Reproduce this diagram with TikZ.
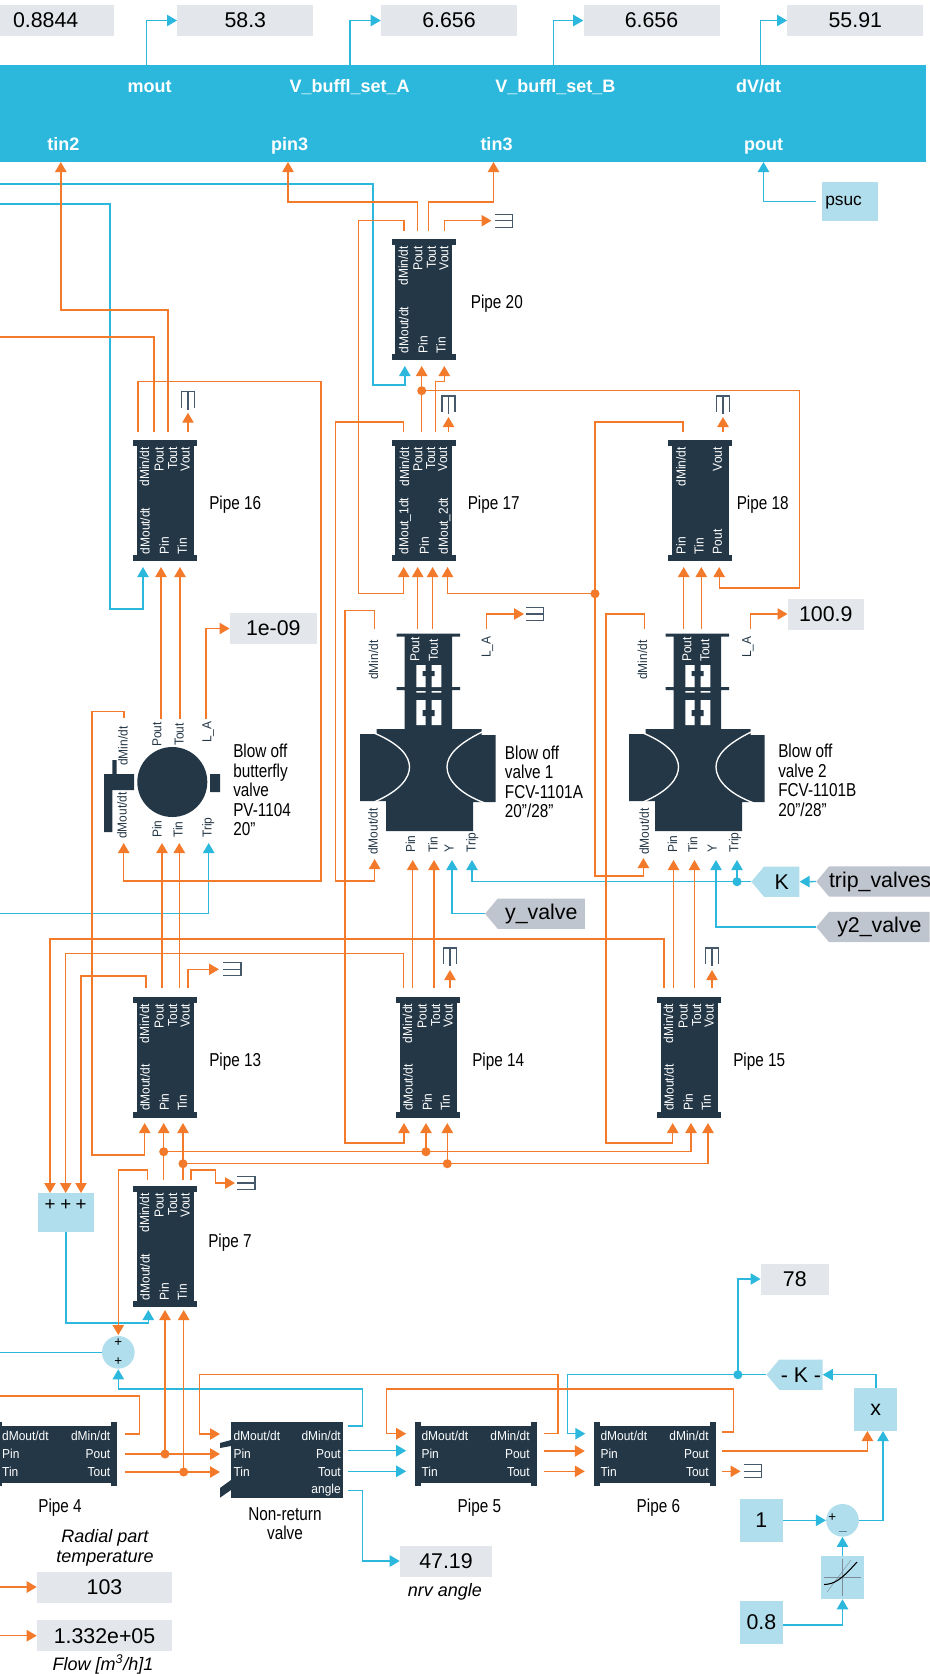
\documentclass[tikz,border=0pt]{standalone}
\usepackage{xcolor}
\usepackage{fontspec}
\setmainfont{Liberation Sans}
\newfontfamily\capfont[FakeStretch=0.82]{Liberation Sans}
\newfontfamily\portfont[FakeStretch=0.92]{Liberation Sans}
\usetikzlibrary{arrows.meta, shapes.symbols}
\definecolor{bandcol}{HTML}{2BB8DC}
\definecolor{palecol}{HTML}{B0DEEC}
\definecolor{embercol}{HTML}{F37A2B}
\definecolor{navycol}{HTML}{243746}
\definecolor{mistcol}{HTML}{E3E6EA}
\definecolor{slatecol}{HTML}{BFC5CE}
\definecolor{combcol}{HTML}{46596A}
\tikzset{
  wireo/.style={draw=embercol, line width=1.05pt},
  wireb/.style={draw=bandcol, line width=1.05pt},
  tipo/.style={wireo, -{Triangle[length=7.5pt,width=8.5pt]}},
  tipb/.style={wireb, -{Triangle[length=7.5pt,width=8.5pt]}},
  joint/.style={circle, fill=#1, inner sep=0pt, minimum size=6.8pt},
  valuebox/.style={rectangle, fill=mistcol, inner sep=0pt, font=\fontsize{16}{18}\selectfont},
  palebox/.style={rectangle, fill=palecol, inner sep=0pt, font=\fontsize{16}{18}\selectfont},
  sumnode/.style={circle, fill=palecol, inner sep=0pt, minimum size=24.5pt},
  tagnode/.style={shape=signal, signal to=west, signal pointer angle=100, fill=#1, inner sep=0pt,
    minimum height=22.7pt, font=\fontsize{16}{18}\selectfont},
  pipebody/.style={rectangle, fill=navycol, inner sep=0pt},
  portup/.style={rotate=90, inner sep=0pt, text height=7.2pt, text depth=1.8pt, font=\portfont\fontsize{9.75}{11}\selectfont},
  portflat/.style={inner sep=0pt, text height=7.2pt, text depth=1.8pt, font=\portfont\fontsize{9.75}{11}\selectfont},
  capnode/.style={inner sep=0pt, align=left, font=\capfont\fontsize{14}{14.6}\selectfont},
  notenode/.style={inner sep=0pt, align=center, font=\itshape\fontsize{13.5}{15}\selectfont},
  bandlabel/.style={inner sep=0pt, text=white, text height=9.5pt, text depth=2.8pt, font=\bfseries\fontsize{13.5}{15}\selectfont},
  combline/.style={draw=combcol, line width=0.8pt}
}
\begin{document}
\begin{tikzpicture}[x=0.75pt, y=-0.75pt]
  \useasboundingbox (0,0) rectangle (929,1674);
  \node[rectangle, fill=bandcol, inner sep=0pt, minimum width=694.5pt, minimum height=72.75pt] (band) at (463,113.5) {};
  \foreach \nm/\x/\y/\lbl in {
    lmout/149.6/88/mout, lbuffa/349.6/88/V\_buffl\_set\_A, lbuffb/555.3/88/V\_buffl\_set\_B, ldvdt/758.7/88/dV{/}dt,
    ltin2/63.4/146/tin2, lpin3/289.6/146/pin3, ltin3/496.5/146/tin3, lpout/763.7/146/pout} {
    \node[bandlabel] (\nm) at (\x,\y) {\lbl};
  }
  \foreach \nm/\x/\y/\w/\h/\lbl in {
    vgain/45.7/20.5/136/31/0.8844, vmout/245.3/20.5/136/31/58.3, vbuffa/449/20.5/136/31/6.656,
    vbuffb/651.5/20.5/136/31/6.656, vdvdt/855.3/20.5/136/31/55.91, vlift/273.3/628.5/87/31/1e-09,
    vlift2/825.8/614/76/31/100.9, vspeed/794.8/1279/68/31/78, vnrv/446/1561/92/31/47.19,
    vtemp/104.5/1587/135/31/103, vflow/104.5/1635.7/135/31/1.332e+05} {
    \node[valuebox, minimum width=\w*0.75pt, minimum height=\h*0.75pt] (\nm) at (\x,\y) {\lbl};
  }
  \foreach \nm/\x/\y/\w/\h/\lbl in {
    cplus/66/1212.5/56/39/{}, cone/761.4/1520.3/43.3/43/1, czero/761.4/1622.3/43.3/43/0.8,
    cmult/875.8/1409.5/43/43/x, clook/842.5/1577.5/43/43/{}, cpsuc/850/201.4/56/38.7/{}} {
    \node[palebox, minimum width=\w*0.75pt, minimum height=\h*0.75pt] (\nm) at (\x,\y) {\lbl};
  }
  \node[inner sep=0pt, anchor=west, font=\fontsize{13}{16}\selectfont] (lpsuc) at (825,203) {psuc};
  \foreach \x in {50,65.7,81} {
    \node[inner sep=0pt, font=\fontsize{14}{14}\selectfont] at (\x,1205) {+};
  }
  \node[sumnode] (sumc) at (118.3,1352.3) {};
  \node[sumnode] (sumb) at (842.5,1520.3) {};
  \node[inner sep=0pt, font=\fontsize{10}{10}\selectfont] at (118.3,1343) {+};
  \node[inner sep=0pt, font=\fontsize{10}{10}\selectfont] at (118.3,1361.7) {+};
  \node[inner sep=0pt, font=\fontsize{10}{10}\selectfont] at (832.3,1518) {+};
  \node[inner sep=0pt, text=navycol, font=\bfseries\fontsize{10.5}{10.5}\selectfont] at (843,1531) {\_};
  \node[tagnode=palecol, minimum width=36pt, anchor=west] (ktag) at (751,881.7) {K};
  \node[tagnode=palecol, minimum width=42pt, anchor=west] (kmtag) at (766.2,1374.7) {- K -};
  \node[tagnode=slatecol, minimum width=85pt, anchor=west] (triptag) at (816,881.5) {trip\_valves\hspace{4pt}};
  \node[tagnode=slatecol, minimum width=85pt, anchor=west] (y2tag) at (816,927) {y2\_valve};
  \node[tagnode=slatecol, minimum width=74.8pt, anchor=west] (ytag) at (484.7,913.7) {y\_valve};
  \draw[combcol!70, line width=0.4pt] (824,1577.3) -- (861,1577.3) (842.3,1559) -- (842.3,1596);
  \draw[combcol!70, line width=0.3pt] (827,1592) -- (851,1560);
  \draw[black, line width=0.8pt] (824,1584.5) .. controls (834,1584) and (840,1581) .. (857,1562);
  \foreach \nm/\x/\y in {
    p20/391.8/239, p16/133/440, p17/391.8/440, p18/668.4/440, p13/133/996.7, p14/396/996.7, p15/657/996.7, p7/133/1186} {
    \node[pipebody, minimum width=42.75pt, minimum height=90.75pt] (\nm) at (\x+32,\y+60.5) {};
    \node[pipebody, minimum width=48pt, minimum height=4.5pt] (\nm-top) at (\x+32,\y+3) {};
    \node[pipebody, minimum width=48pt, minimum height=4.5pt] (\nm-end) at (\x+32,\y+118) {};
  }
  \foreach \nm/\x/\y in {p20/391.8/239, p16/133/440, p13/133/996.7, p14/396/996.7, p15/657/996.7, p7/133/1186} {
    \foreach \lbl/\dx in {{dMin/dt}/12.5, Pout/27, Tout/40.5, Vout/53} {
      \node[portup, text=white, anchor=east] at (\x+\dx,\y+7) {\lbl};
    }
    \foreach \lbl/\dx in {{dMout/dt}/13, Pin/32.3, Tin/50.3} {
      \node[portup, text=white, anchor=west] at (\x+\dx,\y+114.5) {\lbl};
    }
  }
  \foreach \lbl/\x in {{dMin/dt}/405.4, Pout/418.7, Tout/431.5, Vout/443.6, {dMin/dt}/682, Vout/718.3} {
    \node[portup, text=white, anchor=east] at (\x,447) {\lbl};
  }
  \foreach \lbl/\x in {dMout\_1dt/404.7, Pin/425.3, dMout\_2dt/444.3, Pin/682, Tin/700, Pout/718.3} {
    \node[portup, text=white, anchor=west] at (\x,554.5) {\lbl};
  }
  \foreach \nm/\x/\y/\lbl in {
    c20/470.6/304/Pipe 20, c16/209/505/Pipe 16, c17/467.5/505/Pipe 17, c18/736.5/505/Pipe 18,
    c13/209/1062/Pipe 13, c14/472/1062/Pipe 14, c15/733/1062/Pipe 15, c7/208/1243/Pipe 7} {
    \node[capnode, anchor=west] (\nm) at (\x,\y) {\lbl};
  }
  \foreach \nm/\x/\lbl in {p4/-4.5/Pipe 4, p5/414.9/Pipe 5, p6/593.9/Pipe 6} {
    \node[pipebody, minimum width=91.25pt, minimum height=42.5pt] (\nm) at (\x+60.8,1454.3) {};
    \node[pipebody, minimum width=4.5pt, minimum height=47.8pt] (\nm-top) at (\x+3,1453.8) {};
    \node[pipebody, minimum width=4.5pt, minimum height=47.8pt] (\nm-end) at (\x+118.7,1453.8) {};
    \node[capnode] (\nm-cap) at (\x+64.5,1507.7) {\lbl};
    \foreach \lbl/\y in {{dMout/dt}/1437, Pin/1455, Tin/1473} {
      \node[portflat, text=white, anchor=west] at (\x+6.4,\y) {\lbl};
    }
    \foreach \lbl/\y in {{dMin/dt}/1437, Pout/1455, Tout/1473} {
      \node[portflat, text=white, anchor=east] at (\x+115,\y) {\lbl};
    }
  }
  \node[pipebody, minimum width=84.4pt, minimum height=57pt] (nrv) at (287,1459.8) {};
  \fill[navycol] (220,1443) -- (231,1440) -- (231,1446) -- (220,1448) -- cycle;
  \fill[navycol] (220,1488) -- (231,1480) -- (231,1490) -- (220,1497.7) -- cycle;
  \foreach \lbl/\y in {{dMout/dt}/1437, Pin/1455, Tin/1473} {
    \node[portflat, text=white, anchor=west] at (233.3,\y) {\lbl};
  }
  \foreach \lbl/\y in {{dMin/dt}/1437, Pout/1455, Tout/1473, angle/1490} {
    \node[portflat, text=white, anchor=east] at (341,\y) {\lbl};
  }
  \node[capnode, align=center] (cnrv) at (285,1523.5) {Non-return\\valve};
  \node[notenode] (nradial) at (105,1547.5) {Radial part\\temperature};
  \node[notenode] (nnrv) at (445,1592) {nrv angle};
  \node[notenode] (nflow) at (103,1664) {Flow [m\textsuperscript{3}/h]1};
  \fill[navycol] (172.3,782) circle (35);
  \fill[navycol] (104,774) rectangle (134,790) (104,774) rectangle (112.3,832) (112.3,760) rectangle (116.7,774) (210,774) rectangle (220,792);
  \node[capnode, anchor=north west] (cbutter) at (233,744) {Blow off\\butterfly\\valve\\PV-1104\\20”};
  \foreach \vn/\dx in {va/0, vb/269} {
    \begin{scope}[shift={(\dx,0)}]
      \fill[navycol] (396.5,633.7) rectangle (460.2,636.7) (404.7,636) rectangle (452,732) (396.5,687) rectangle (460.2,690);
      \fill[navycol] (376.5,729) -- (481.7,729) -- (481.7,735) -- (495.6,735) -- (495.6,802) -- (473,802) -- (473,831)
        -- (386,831) -- (386,801) -- (360,801) -- (360,734) -- (376.5,734) -- cycle;
      \draw[white, line width=1pt] (374,733) .. controls (400,744) and (409.5,756) .. (409.5,767)
        .. controls (409.5,778) and (400,791) .. (374,802);
      \draw[white, line width=1pt] (482,732) .. controls (458,744) and (447,755) .. (447,767)
        .. controls (447,780) and (460,794) .. (485,803);
      \fill[white] (416.3,665) rectangle (425.7,687) (431.7,665) rectangle (441.3,687) (416.3,691) rectangle (425.7,692.6)
        (431.7,691) rectangle (441.3,692.6) (416.3,700) rectangle (425.7,725) (431.7,700) rectangle (441.3,725);
      \fill[navycol] (422.7,671) rectangle (434.7,676) (422.7,710) rectangle (434.7,716);
    \end{scope}
  }
  \foreach \lbl/\x in {Pout/415.7, Tout/434.3, Pout/687.7, Tout/705.7} {
    \node[portup, text=white, anchor=west] at (\x,662) {\lbl};
  }
  \foreach \lbl/\x/\y/\anc in {
    {dMin/dt}/124/766/west, Pout/157.7/747/west, Tout/180/746/west, L\_A/207.7/743/west,
    {dMout/dt}/123/839/west, Pin/158/838/west, Tin/179/838/west, Trip/208/838/west,
    {dMin/dt}/374.4/680/west, L\_A/487/658/west, {dMin/dt}/643.5/680/west, L\_A/747.4/658/west,
    {dMout/dt}/374/855/west, Pin/411.4/853/west, Tin/434/853/west, Y/450/853/west, Trip/472/853/west,
    {dMout/dt}/645.3/855/west, Pin/673.5/853/west, Tin/693.8/853/west, Y/713/853/west, Trip/734.7/853/west} {
    \node[portup, text=navycol, anchor=\anc] at (\x,\y) {\lbl};
  }
  \node[capnode, anchor=north west] (cva) at (504.7,745.5) {Blow off\\valve 1\\FCV-1101A\\20”/28”};
  \node[capnode, anchor=north west] (cvb) at (778,744) {Blow off\\valve 2\\FCV-1101B\\20”/28”};
  \foreach \nm/\x/\y in {
    omout/146.6/65, obuffa/350/65, obuffb/553.3/65, odvdt/760.7/65, tin2tip/60.8/162, pin3tip/288/162, tin3tip/493.5/162, pouttip/763.5/162,
    wa/0/184, wb/0/204, wc/0/337, wd/0/913.7, we/0/1352.3, wf/0/1396, wg/0/1587, wh/0/1635.7,
    p20dmin/404/231, p20pout/417.7/231, p20tout/428.7/231, p20vout/444.7/231, p20dmo/404.8/366, p20pin/421.7/366, p20tin/444.3/366,
    p16dmin/138/432, p16pout/154/432, p16tout/168/432, p16vout/188/432, p16vtip/188/412.7, p16dmo/143/567, p16pin/161/567, p16tin/180/567,
    p17dmin/403.7/432, p17pout/421.7/432, p17tout/435.6/432, p17vout/448.5/432, p17vtip/448.5/417, p17dm1/403.7/567, p17pin/417.7/567, p17tin/432.6/567, p17dm2/447.5/567,
    p18dmin/682.9/432, p18vout/723/432, p18vtip/723/417, p18pin/683.7/567, p18tin/701.3/567, p18pout/719.2/567,
    bdmin/124/718, bpout/161/719, btout/180/719, bla/206/719, bdmo/123.7/843, bpin/162/843, btin/179.3/843, btrip/208.7/843,
    vadmin/374.4/629, vapout/417.7/629, vatout/432.6/629, vala/486.4/629, vadmo/374.6/859, vapin/412.7/860, vatin/434/860, vay/452/860, vatrip/472/860,
    vbdmin/644.3/629, vbpout/683.7/629, vbtout/701.3/629, vbla/750.5/629, vbdmo/643.4/858, vbpin/673.5/860, vbtin/694.5/860, vby/716/860, vbtrip/737/860,
    p13dmin/146/988, p13pout/162/988, p13tout/179.3/988, p13vout/188/988, p13dmo/144.7/1123, p13pin/163.7/1123, p13tin/183/1123,
    p14dmin/403.7/988, p14pout/412.7/988, p14tout/434/988, p14vout/450/988, p14vtip/450/970, p14dmo/404/1123, p14pin/426/1123, p14tin/447.3/1123,
    p15dmin/664/988, p15pout/673.5/988, p15tout/694.5/988, p15vout/712/988, p15vtip/712/970, p15dmo/672.7/1123, p15pin/691/1123, p15tin/708/1123,
    p7dmin/147.3/1180, p7pout/163.7/1180, p7tout/183/1180, p7vout/191/1180, p7dmo/148.3/1310, p7pin/165/1310, p7tin/183.7/1310,
    plusa/50/1193, plusb/65.7/1193, plusc/81/1193, sumtop/118.3/1335, sumlow/118.3/1369.3,
    p4dmin/125/1434, p4pout/125/1454, p4tout/125/1472, nrdmo/220/1434, nrpin/220/1454, nrtin/220/1472,
    nrdmin/348.3/1426, nrpout/348.3/1450.7, nrtout/348.3/1471.3, nrang/348.3/1490.7,
    p5dmo/406.2/1433.7, p5pin/406.2/1450.7, p5tin/406.2/1471.3, p5dmin/543.9/1433.7, p5pout/543.9/1451, p5tout/543.9/1471.3,
    p6dmo/585.3/1433.7, p6pin/584.8/1451, p6tin/584.8/1471.3, p6dmin/722.4/1432, p6pout/722.4/1451, p6tout/722.4/1471.3,
    multo/867.4/1431, multb/883/1431, jpipe/421.7/390.7, jvalve/595/593.7, ja/163.7/1151.7, jb/183/1163.7, jc/426/1151.7, jd/447.3/1163.7,
    je/165/1454, jf/183.7/1472, jg/737/881.7, jh/737.9/1374.7, tipa/491.5/220.7, tipb/524/614, tipc/219/969.3, tipd/235/1183, tipe/740.6/1471.3} {
    \coordinate (\nm) at (\x,\y);
  }
  \foreach \nm/\x/\y in {ta/494.5/220.7, tb/525.8/614, tc/223/969.3, td/237/1183, te/743.8/1471.3} {
    \coordinate (\nm) at (\x,\y);
    \draw[combline] ([shift={(0,-6.5)}]\nm) -- ++(18,0) -- ++(0,13) -- ++(-18,0) (\nm) -- ++(18,0);
  }
  \foreach \nm/\x/\y in {tf/188/391.7, tg/448.5/396, th/723/396, ti/450/948, tj/712/948} {
    \coordinate (\nm) at (\x,\y);
    \draw[combline] ([shift={(-6.5,16)}]\nm) -- ++(0,-16) -- ++(13,0) -- ++(0,16) (\nm) -- ++(0,18);
  }
  \foreach \from/\to in {omout/vmout, obuffa/vbuffa, obuffb/vbuffb, odvdt/vdvdt} {
    \draw[tipb] (\from) |- (\to.west);
  }
  \draw[tipb] ([xshift=-4.5pt]cpsuc.west) -| (pouttip);
  \draw[tipb] (wa) -| (373,385) -| (p20dmo);
  \draw[tipb] (wb) -| (110,609) -| (p16dmo);
  \draw[tipb] (wd) -| (btrip);
  \draw[tipb] (ytag.west) -| (vay);
  \draw[tipb] (ktag.west) -| (vatrip);
  \draw[tipb] (jg) -- (vbtrip);
  \draw[tipb] (triptag.west) -- (ktag.east);
  \draw[tipb] (y2tag.west) -| (vby);
  \draw[tipb] (cplus.south) |- (148.3,1323) -- (p7dmo);
  \draw[wireb] (we) -- (sumc.west);
  \draw[tipb] (nrdmin) -| (362.3,1389) -| (sumlow);
  \draw[tipb] (nrpout) -- (p5pin);
  \draw[tipb] (nrtout) -- (p5tin);
  \draw[tipb] (nrang) -| (362.3,1561) -- (vnrv.west);
  \draw[tipb] (kmtag.west) -| (567.4,1433.7) -- (p6dmo);
  \draw[tipb] (jh) |- (vspeed.west);
  \draw[tipb] (cmult.north) |- (kmtag.east);
  \draw[tipb] (sumb.east) -| (multb);
  \draw[tipb] (cone.east) -- (sumb.west);
  \draw[tipb] (clook.north) -- (sumb.south);
  \draw[tipb] ([yshift=-2pt]czero.east) -| (clook.south);
  \draw[tipo] (p16tout) |- (60.8,310) -- (tin2tip);
  \draw[wireo] (wc) -| (p16pout);
  \draw[tipo] (p16dmin) |- (321,381.7) -- (321,881) -| (bdmo);
  \foreach \from/\to in {
    p16vout/p16vtip, bpout/p16pin, btout/p16tin, p13pout/bpin, p13tout/btin, p17vout/p17vtip, p18vout/p18vtip,
    vapout/p17pin, vatout/p17tin, vbpout/p18pin, vbtout/p18tin, p14pout/vapin, p14tout/vatin, p15pout/vbpin, p15tout/vbtin,
    p14vout/p14vtip, p15vout/p15vtip, p17pout/p20pin, p7pout/p13pin, p7tout/p13tin, p4pout/nrpin, p4tout/nrtin,
    jc/p14pin, jd/p14tin, je/p7pin, jf/p7tin, p5pout/p6pin, p5tout/p6tin, p6tout/tipe, wg/vtemp.west, wh/vflow.west} {
    \draw[tipo] (\from) -- (\to);
  }
  \draw[tipo] (bla) |- (vlift.west);
  \draw[tipo] (bdmin) |- (92,711.7) -- (92,1155) -| (p13dmo);
  \draw[tipo] (p13dmin) |- (81,976) -- (plusc);
  \draw[tipo] (p13vout) |- (tipc);
  \draw[tipo] (p14dmin) |- (65.7,953.3) -- (plusb);
  \draw[tipo] (p15dmin) |- (50,939) -- (plusa);
  \draw[tipo] (p20pout) |- (288,202) -- (pin3tip);
  \draw[tipo] (p20tout) |- (493.5,202) -- (tin3tip);
  \draw[tipo] (p20dmin) |- (358.4,220.7) -- (358.4,593.7) -| (p17dm1);
  \draw[tipo] (p20vout) |- (tipa);
  \draw[tipo] (p17tout) -- (435.6,381.7) -| (p20tin);
  \draw[tipo] (p17dmin) |- (335.4,422) -- (335.4,881) -| (vadmo);
  \draw[tipo] (jpipe) -| (799.3,588) -| (p18pout);
  \draw[tipo] (p18dmin) |- (595,422) -- (595,876) -| (vbdmo);
  \draw[tipo] (jvalve) -| (p17dm2);
  \draw[tipo] (vbdmin) |- (606,614) -- (606,1143) -| (p15dmo);
  \draw[tipo] (vadmin) |- (345,610.7) -- (345,1143) -| (p14dmo);
  \draw[tipo] (vala) |- (tipb);
  \draw[tipo] (vbla) |- (vlift2.west);
  \draw[tipo] (p7dmin) |- (118.3,1170) -- (sumtop);
  \draw[tipo] (ja) -| (p15pin);
  \draw[tipo] (jb) -| (p15tin);
  \draw[tipo] (p7vout) |- (215.7,1170) |- (tipd);
  \draw[wireo] (p4dmin) -| (139.7,1396) -- (wf);
  \draw[tipo] (p5dmin) -| (557.8,1374.7) -| (199.3,1434) -- (nrdmo);
  \draw[tipo] (p6dmin) -| (733.7,1389) -| (386.3,1433.7) -- (p5dmo);
  \draw[tipo] (p6pout) -| (multo);
  \foreach \jn in {jpipe, jvalve, ja, jb, jc, jd, je, jf} {
    \node[joint=embercol] at (\jn) {};
  }
  \foreach \jn in {jg, jh} {
    \node[joint=bandcol] at (\jn) {};
  }
\end{tikzpicture}
\end{document}
